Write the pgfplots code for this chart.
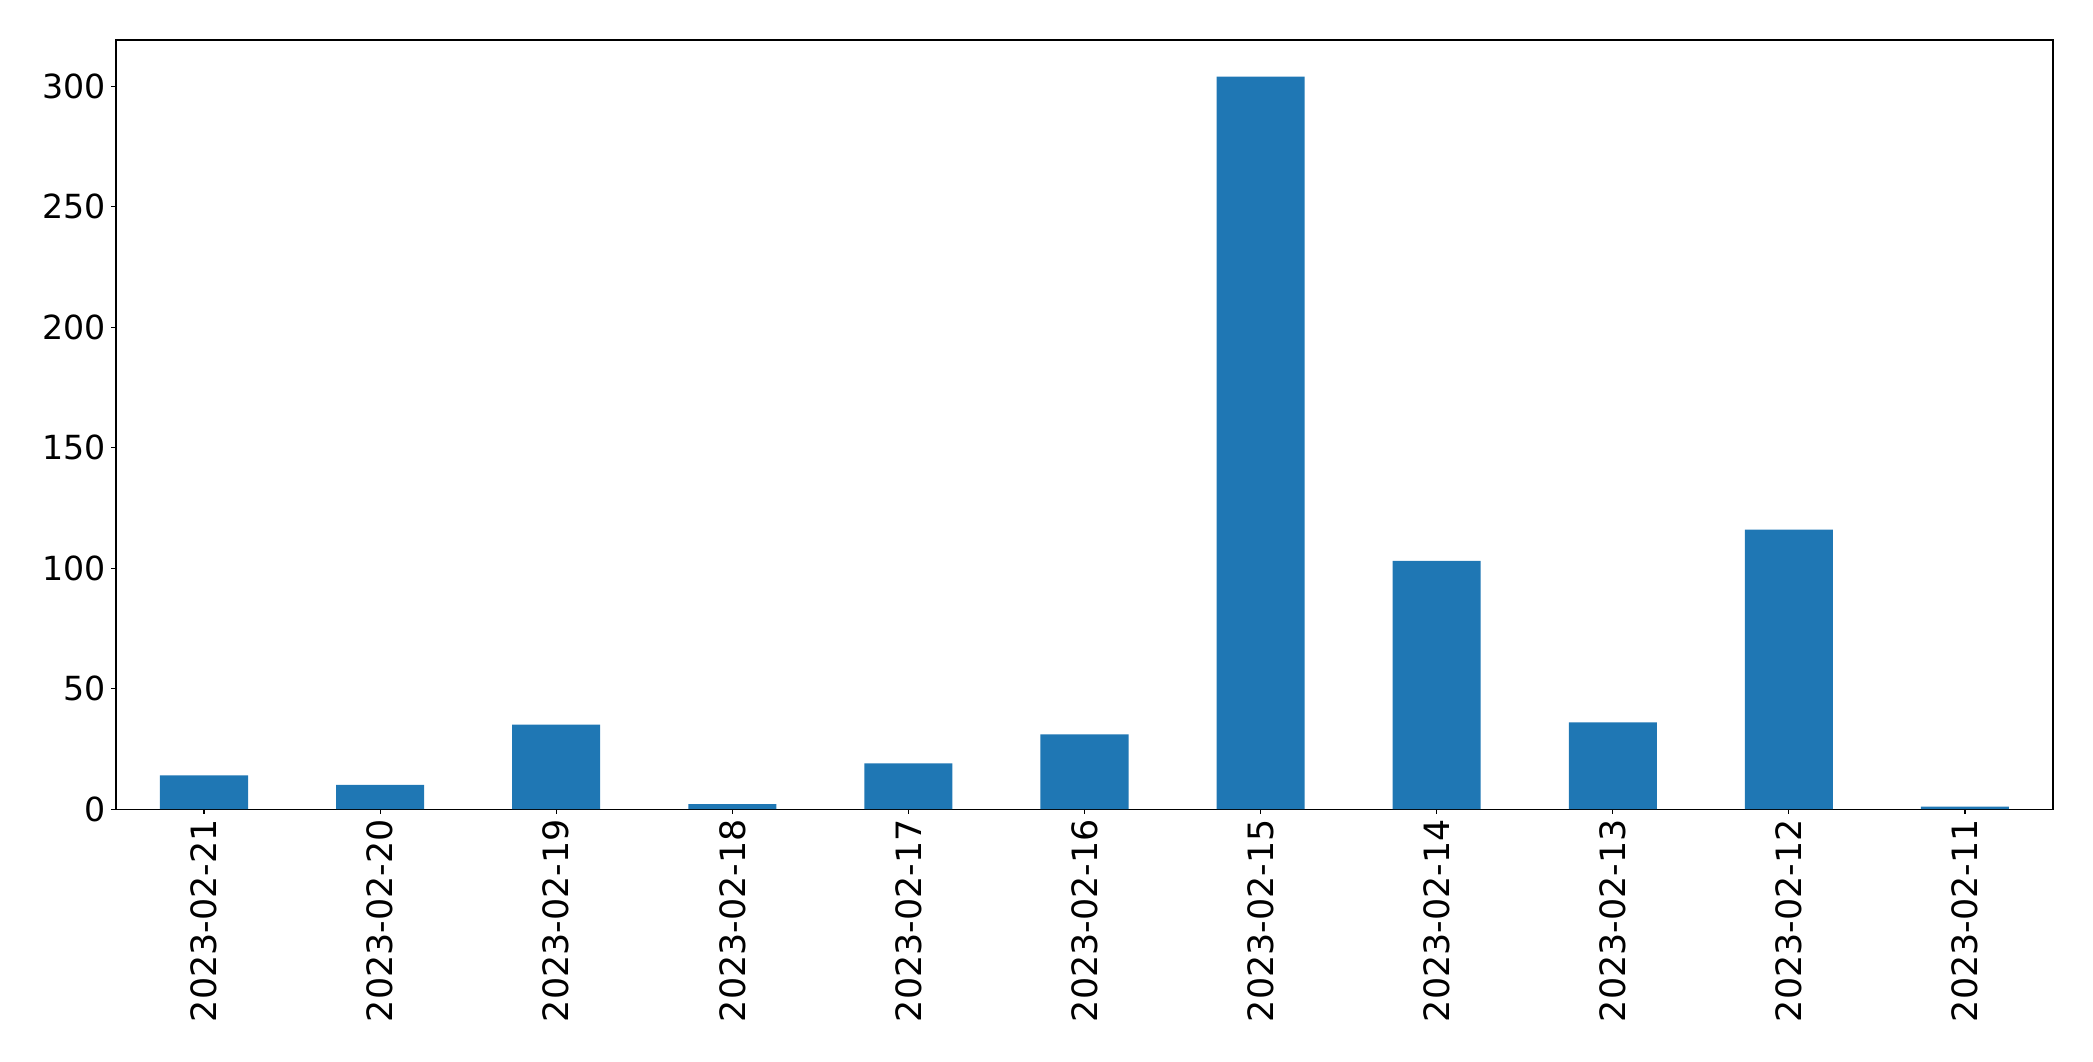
\documentclass[border=0pt]{standalone}
\usepackage{pgfplots}
\pgfplotsset{compat=1.18}
\usepackage{fontspec}
\setmainfont{DejaVu Sans}
\definecolor{tabblue}{HTML}{1F77B4}
\begin{document}
\begin{tikzpicture}
\useasboundingbox (-83.5bp,-181.4bp) rectangle (1423.4bp,582.5bp);
\begin{axis}[
  at={(0,0)}, anchor=south west,
  scale only axis,
  width=1394.6bp, height=553.7bp,
  xmin=-0.5, xmax=10.5,
  ymin=0, ymax=319.2,
  xtick={0,...,10},
  xticklabels={2023-02-21,2023-02-20,2023-02-19,2023-02-18,2023-02-17,2023-02-16,2023-02-15,2023-02-14,2023-02-13,2023-02-12,2023-02-11},
  ytick={0,50,100,150,200,250,300},
  xtick pos=bottom, ytick pos=left,
  tick align=outside,
  major tick length=3.5bp,
  every tick/.style={black, line width=0.8bp},
  axis line style={line width=0.8bp},
  /pgf/number format/assume math mode=true,
  yticklabel style={font=\fontsize{24}{29}\selectfont, inner sep=0pt, xshift=-3.5bp},
  xticklabel style={font=\fontsize{25.2}{30}\selectfont, rotate=90, anchor=east, inner sep=0pt},
  xticklabel shift=3.8bp,
  yticklabel shift=0bp,
]
\addplot[ybar, bar width=0.5, fill=tabblue, draw=none] coordinates {
(0,14) (1,10) (2,35) (3,2) (4,19) (5,31) (6,304) (7,103) (8,36) (9,116) (10,1)
};
\end{axis}
\end{tikzpicture}
\end{document}
